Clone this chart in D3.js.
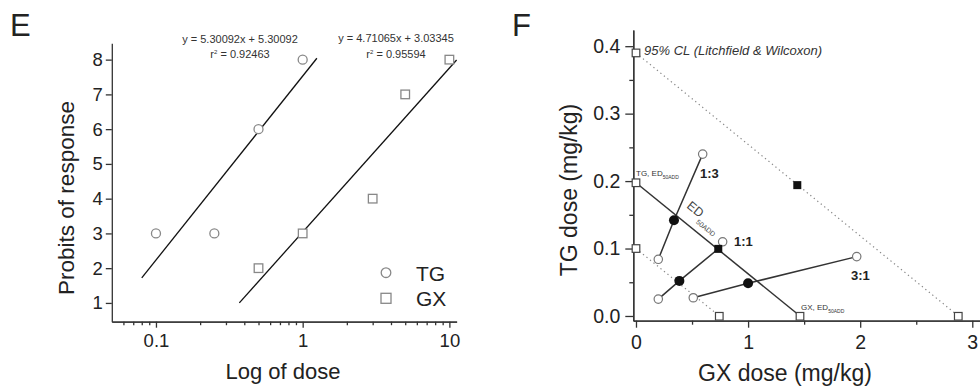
<!DOCTYPE html>
<html>
<head>
<meta charset="utf-8">
<script src="https://cdn.jsdelivr.net/npm/d3@7"></script>
<style>
  body { margin: 0; background: #fff; }
  svg { display: block; font-family: "Liberation Sans", Arial, sans-serif; }
  .axis path, .axis line { stroke: #333; stroke-width: 1.3; }
  .axis text { fill: #222; }
</style>
</head>
<body>
<svg id="chart" width="980" height="387"></svg>
<script>
// ---- panel E data ----
var tgDose = [0.1, 0.25, 0.5, 1];
var tgProbit = [3, 3, 6, 8];
var gxDose = [0.5, 1, 3, 5, 10];
var gxProbit = [2, 3, 4, 7, 8];
// fitted lines, end points [dose, probit]
var tgFit = [[0.08, 1.72], [1.25, 8.04]];
var gxFit = [[0.37, 1.0], [11.2, 7.99]];
var eMajorTicks = [0.1, 1, 10];
var eMinorTicks = [0.06, 0.07, 0.08, 0.09, 0.2, 0.3, 0.4, 0.5, 0.6, 0.7, 0.8, 0.9, 2, 3, 4, 5, 6, 7, 8, 9];
var eYTicks = [1, 2, 3, 4, 5, 6, 7, 8];

// ---- panel F data ----
var clUpper = [[0, 0.39], [2.875, 0]];
var clLower = [[0, 0.1], [0.743, 0]];
var isobole = [[0, 0.1975], [1.463, 0]];
var ratio13 = [[0.199, 0.084], [0.339, 0.142], [0.595, 0.24]];
var ratio11 = [[0.199, 0.025], [0.387, 0.052], [0.734, 0.0995], [0.773, 0.11]];
var ratio31 = [[0.511, 0.027], [1.0, 0.0485], [1.969, 0.088]];
var openSquares = [[0, 0.39], [0, 0.1975], [0, 0.1], [0.743, 0], [1.463, 0], [2.875, 0]];
var openCircles = [[0.199, 0.084], [0.595, 0.24], [0.199, 0.025], [0.773, 0.11], [0.511, 0.027], [1.969, 0.088]];
var filledCircles = [[0.339, 0.142], [0.387, 0.052], [1.0, 0.0485]];
var filledSquares = [[0.734, 0.0995], [1.439, 0.194]];
var fXTicks = [0, 1, 2, 3];
var fXMinor = [0.5, 1.5, 2.5];
var fYTicks = [0, 0.1, 0.2, 0.3, 0.4];
var fYMinor = [0.05, 0.15, 0.25, 0.35];

var svg = d3.select("#chart");

// ================= E =================
var x = d3.scaleLog().domain([0.05, 11.2]).range([111.8, 456.6]);
var y = d3.scaleLinear().domain([0.46, 8.47]).range([321.7, 43.3]);

var e = svg.append("g");

e.append("g").attr("class", "axis")
  .attr("transform", "translate(0,321.7)")
  .call(d3.axisBottom(x).tickValues(eMinorTicks).tickSize(3.5).tickFormat("").tickSizeOuter(0));
e.append("g").attr("class", "axis")
  .attr("transform", "translate(0,321.7)")
  .call(d3.axisBottom(x).tickValues(eMajorTicks).tickSize(6).tickPadding(6).tickSizeOuter(0)
    .tickFormat(d3.format("~g")))
  .selectAll("text").style("font-size", "18.5px");
e.append("g").attr("class", "axis")
  .attr("transform", "translate(111.8,0)")
  .call(d3.axisLeft(y).tickValues(eYTicks).tickSize(6).tickPadding(3).tickSizeOuter(0))
  .selectAll("text").style("font-size", "18.5px");

e.selectAll(".axis .domain").attr("stroke-width", 1.6);

var line = d3.line().x(d => x(d[0])).y(d => y(d[1]));
[tgFit, gxFit].forEach(function(f) {
  e.append("path").datum(f)
    .attr("fill", "none").attr("stroke", "#111").attr("stroke-width", 1.3)
    .attr("d", line);
});

e.selectAll("circle.tg").data(d3.zip(tgDose, tgProbit)).enter().append("circle")
  .attr("cx", d => x(d[0])).attr("cy", d => y(d[1])).attr("r", 4.5)
  .attr("fill", "#fff").attr("stroke", "#888").attr("stroke-width", 1.3);
e.selectAll("rect.gx").data(d3.zip(gxDose, gxProbit)).enter().append("rect")
  .attr("x", d => x(d[0]) - 4.3).attr("y", d => y(d[1]) - 4.3)
  .attr("width", 8.6).attr("height", 8.6)
  .attr("fill", "#fff").attr("stroke", "#888").attr("stroke-width", 1.3);

// legend
e.append("circle").attr("cx", 386).attr("cy", 272.7).attr("r", 4.8)
  .attr("fill", "#fff").attr("stroke", "#888").attr("stroke-width", 1.3);
e.append("rect").attr("x", 381).attr("y", 293.3).attr("width", 10).attr("height", 10)
  .attr("fill", "#fff").attr("stroke", "#888").attr("stroke-width", 1.3);
e.append("text").attr("x", 416).attr("y", 280.5).text("TG").style("font-size", "21px").attr("fill", "#222");
e.append("text").attr("x", 416).attr("y", 306).text("GX").style("font-size", "21px").attr("fill", "#222");

// equations
function eq(cx, base, txt, r2) {
  e.append("text").attr("x", cx).attr("y", base).attr("text-anchor", "middle")
    .style("font-size", "11px").attr("fill", "#333").text(txt);
  var t = e.append("text").attr("x", cx).attr("y", base + 15.5).attr("text-anchor", "middle")
    .style("font-size", "11px").attr("fill", "#333");
  t.append("tspan").text("r");
  t.append("tspan").attr("dy", -4).style("font-size", "6px").text("2");
  t.append("tspan").attr("dy", 4).text(" = " + r2);
}
eq(240, 42.5, "y = 5.30092x + 5.30092", "0.92463");
eq(396, 42, "y = 4.71065x + 3.03345", "0.95594");

e.append("text").attr("x", 73.5).attr("y", 198).attr("text-anchor", "middle")
  .attr("transform", "rotate(-90,73.5,198)").style("font-size", "22.5px").attr("fill", "#222")
  .text("Probits of response");
e.append("text").attr("x", 283).attr("y", 379).attr("text-anchor", "middle")
  .style("font-size", "22px").attr("fill", "#222").text("Log of dose");
e.append("text").attr("x", 10).attr("y", 36).style("font-size", "31px").attr("fill", "#222").text("E");

// ================= F =================
var fx = d3.scaleLinear().domain([-0.024, 3.1]).range([633.3, 983.5]);
var fy = d3.scaleLinear().domain([-0.007, 0.424]).range([320.7, 30]);
var f = svg.append("g");

f.append("g").attr("class", "axis")
  .attr("transform", "translate(0,320.7)")
  .call(d3.axisBottom(fx).tickValues(fXMinor).tickSize(4).tickFormat("").tickSizeOuter(0));
f.append("g").attr("class", "axis")
  .attr("transform", "translate(0,320.7)")
  .call(d3.axisBottom(fx).tickValues(fXTicks).tickSize(7).tickPadding(7).tickSizeOuter(0)
    .tickFormat(d3.format("d")))
  .selectAll("text").style("font-size", "19.5px");
f.append("g").attr("class", "axis")
  .attr("transform", "translate(633.3,0)")
  .call(d3.axisLeft(fy).tickValues(fYMinor).tickSize(4).tickFormat("").tickSizeOuter(0));
f.append("g").attr("class", "axis")
  .attr("transform", "translate(633.3,0)")
  .call(d3.axisLeft(fy).tickValues(fYTicks).tickSize(8).tickPadding(5).tickSizeOuter(0)
    .tickFormat(d3.format(".1f")))
  .selectAll("text").style("font-size", "19.5px");
f.selectAll(".axis .domain").attr("stroke-width", 1.6);

var fline = d3.line().x(d => fx(d[0])).y(d => fy(d[1]));
[clUpper, clLower].forEach(function(l) {
  f.append("path").datum(l).attr("fill", "none").attr("stroke", "#888")
    .attr("stroke-width", 1.2).attr("stroke-dasharray", "1.3,3.2").attr("d", fline);
});
[isobole, ratio13, ratio11, ratio31].forEach(function(l) {
  f.append("path").datum(l).attr("fill", "none").attr("stroke", "#333")
    .attr("stroke-width", 1.5).attr("d", fline);
});

// squares on the x axis sit on the axis line
f.selectAll("rect.os").data(openSquares).enter().append("rect")
  .attr("x", d => fx(d[0]) - 3.8)
  .attr("y", d => d[1] === 0 ? fy(0) - 3.5 : fy(d[1]) - 3.8)
  .attr("width", 7.6).attr("height", 7.6)
  .attr("fill", "#fff").attr("stroke", "#444").attr("stroke-width", 1.2);
f.selectAll("circle.oc").data(openCircles).enter().append("circle")
  .attr("cx", d => fx(d[0])).attr("cy", d => fy(d[1])).attr("r", 4.2)
  .attr("fill", "#fff").attr("stroke", "#777").attr("stroke-width", 1.2);
f.selectAll("circle.fc").data(filledCircles).enter().append("circle")
  .attr("cx", d => fx(d[0])).attr("cy", d => fy(d[1])).attr("r", 5)
  .attr("fill", "#111");
f.selectAll("rect.fs").data(filledSquares).enter().append("rect")
  .attr("x", d => fx(d[0]) - 4).attr("y", d => fy(d[1]) - 4)
  .attr("width", 8).attr("height", 8).attr("fill", "#111");

function bold(xp, yp, t) {
  f.append("text").attr("x", xp).attr("y", yp).style("font-size", "13px")
    .style("font-weight", "bold").attr("fill", "#222").text(t);
}
bold(700, 178, "1:3");
bold(734, 246, "1:1");
bold(851, 280, "3:1");

function edLabel(xp, yp, pre) {
  var t = f.append("text").attr("x", xp).attr("y", yp).style("font-size", "8px").attr("fill", "#333");
  t.append("tspan").text(pre + "ED");
  t.append("tspan").attr("dy", 2.5).style("font-size", "5px").text("50ADD");
}
edLabel(636, 176, "TG, ");
edLabel(801, 310, "GX, ");

var edt = f.append("text").attr("transform", "translate(686,207) rotate(39.5)")
  .style("font-size", "12.5px").attr("fill", "#444");
edt.append("tspan").text("ED");
edt.append("tspan").attr("dy", 6).style("font-size", "7px").text("50ADD");

f.append("text").attr("x", 644).attr("y", 54.5).style("font-size", "13px")
  .style("font-style", "italic").attr("fill", "#333").text("95% CL (Litchfield & Wilcoxon)");

f.append("text").attr("x", 576.5).attr("y", 190).attr("text-anchor", "middle")
  .attr("transform", "rotate(-90,576.5,190)").style("font-size", "23px").attr("fill", "#222")
  .text("TG dose (mg/kg)");
f.append("text").attr("x", 785).attr("y", 381).attr("text-anchor", "middle")
  .style("font-size", "23px").attr("fill", "#222").text("GX dose (mg/kg)");
f.append("text").attr("x", 512).attr("y", 36).style("font-size", "31px").attr("fill", "#222").text("F");
</script>
</body>
</html>
